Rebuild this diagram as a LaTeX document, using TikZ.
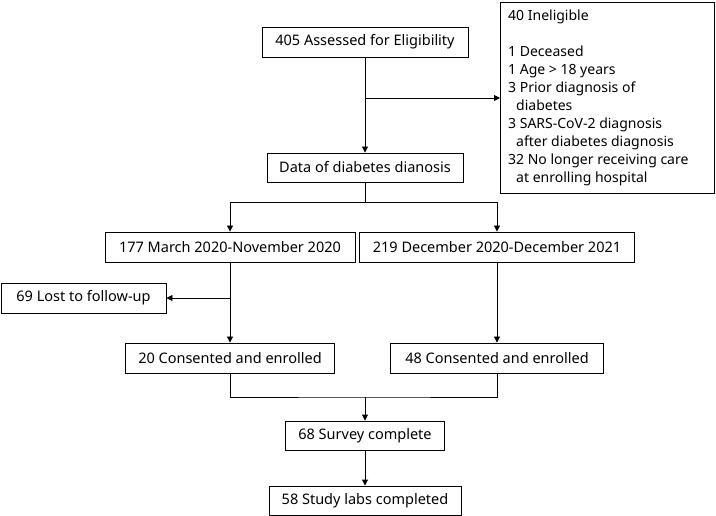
\documentclass[tikz,border=0pt]{standalone}
\usepackage{fontspec}
\setmainfont{Noto Sans}
\usetikzlibrary{arrows.meta}
\begin{document}
\begin{tikzpicture}[x=1pt,y=-1pt,
  box/.style={draw, line width=0.9pt, minimum height=30pt, inner sep=0pt, font=\fontsize{14.5}{18}\selectfont},
  arr/.style={line width=0.9pt, -{Triangle[length=6pt,width=6pt]}},
  ln/.style={line width=0.9pt}]
\useasboundingbox (0,0) rectangle (716,516);
\node[box, minimum width=206pt] (A) at (365,42) {405 Assessed for Eligibility};
\node[box, minimum width=214pt, minimum height=191pt, anchor=north west] (I) at (500,2) {};
\node[anchor=north west, inner sep=0pt, align=left, font=\fontsize{14}{18}\selectfont] (It) at (508,10)
 {40 Ineligible\\[18pt]
  1 Deceased\\
  1 Age > 18 years\\
  3 Prior diagnosis of\\
  \hspace*{8pt}diabetes\\
  3 SARS-CoV-2 diagnosis\\
  \hspace*{8pt}after diabetes diagnosis\\
  32 No longer receiving care\\
  \hspace*{8pt}at enrolling hospital};
\node[box, minimum width=196pt, minimum height=29pt] (B) at (365,167.5) {Data of diabetes dianosis};
\node[box, minimum width=250pt] (C1) at (230,247) {177 March 2020-November 2020};
\node[box, minimum width=275pt] (C2) at (497,247) {219 December 2020-December 2021};
\node[box, minimum width=165pt] (L) at (83.5,298) {69 Lost to follow-up};
\node[box, minimum width=209pt] (D1) at (230,358) {20 Consented and enrolled};
\node[box, minimum width=213pt] (D2) at (497,358) {48 Consented and enrolled};
\node[box, minimum width=159pt, minimum height=29pt] (E) at (365,435.5) {68 Survey complete};
\node[box, minimum width=192pt, minimum height=29pt] (F) at (365,500.5) {58 Study labs completed};
\coordinate (j1) at (365,98);
\coordinate (s1) at (365,202);
\coordinate (j2) at (230,298);
\coordinate (m) at (365,397);
\draw[arr] (A.south) -- (B.north);
\draw[arr] (j1) -- (j1 -| I.west);
\draw[ln] (B.south) -- (s1);
\draw[arr] (s1) -| (C1.north);
\draw[arr] (s1) -| (C2.north);
\draw[arr] (C1.south) -- (D1.north);
\draw[arr] (j2) -- (L.east);
\draw[arr] (C2.south) -- (D2.north);
\draw[ln] (D1.south) |- (m) -| (D2.south);
\draw[arr] (m) -- (E.north);
\draw[arr] (E.south) -- (F.north);
\end{tikzpicture}
\end{document}
